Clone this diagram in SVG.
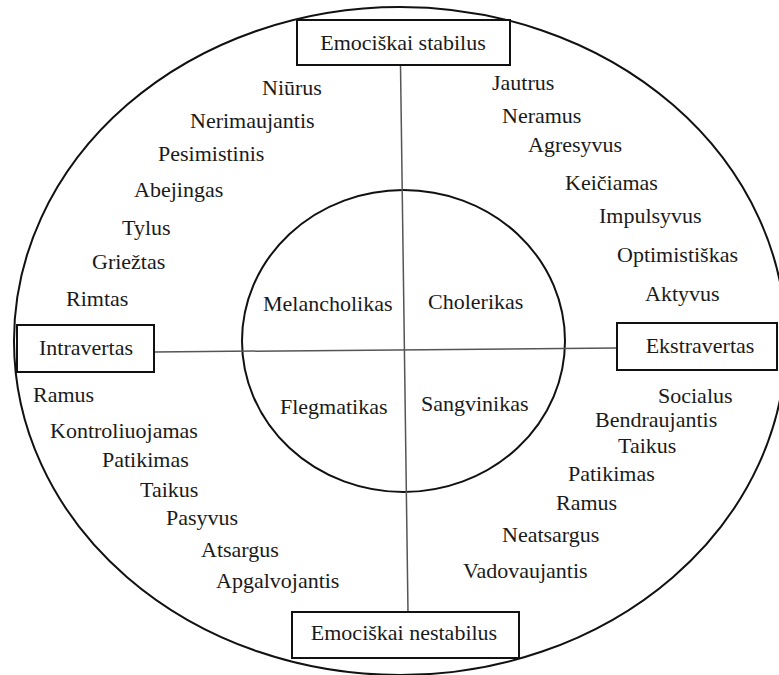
<svg xmlns="http://www.w3.org/2000/svg" width="779" height="675" viewBox="0 0 779 675">
  <style>
    .ring { fill: none; stroke: #111; stroke-width: 2; }
    .axis { stroke: #555; stroke-width: 1.5; fill: none; }
    .box { fill: #fff; stroke: #111; stroke-width: 2; }
    .lbl { font-family: 'Liberation Serif', 'DejaVu Serif', serif; font-size: 22px; fill: #1a1a1a; }
    .mid { text-anchor: middle; }
  </style>
  <rect width="779" height="675" fill="#fff"/>

  <!-- outer ring and inner temperament circle -->
  <g id="outer-ring">
    <ellipse class="ring" cx="400" cy="341" rx="386" ry="334"/>
  </g>
  <g id="inner-circle">
    <ellipse class="ring" cx="403.5" cy="341" rx="161.5" ry="151"/>
  </g>

  <!-- axes joining the four pole boxes -->
  <g id="connectors">
    <line class="axis" x1="400.5" y1="65" x2="408" y2="612"/>
    <line class="axis" x1="154" y1="352" x2="617" y2="348"/>
  </g>

  <g class="lbl" font-family="Liberation Serif, DejaVu Serif, serif" font-size="22">
    <!-- pole boxes -->
    <g id="node-stable">
      <rect class="box" x="297" y="20" width="213" height="45"/>
      <text class="mid" x="403" y="50">Emociškai stabilus</text>
    </g>
    <g id="node-introvert">
      <rect class="box" x="17" y="325" width="137" height="47"/>
      <text class="mid" x="86" y="355">Intravertas</text>
    </g>
    <g id="node-extravert">
      <rect class="box" x="617" y="323" width="160" height="47"/>
      <text class="mid" x="700" y="353">Ekstravertas</text>
    </g>
    <g id="node-unstable">
      <rect class="box" x="292" y="612" width="227" height="46"/>
      <text class="mid" x="404" y="640">Emociškai nestabilus</text>
    </g>

    <!-- temperament names -->
    <g id="temperaments">
      <text x="263" y="311">Melancholikas</text>
      <text x="428" y="309">Cholerikas</text>
      <text x="280" y="414">Flegmatikas</text>
      <text x="421" y="411">Sangvinikas</text>
    </g>

    <!-- traits: upper left -->
    <g id="traits-upper-left">
      <text x="262" y="95">Niūrus</text>
      <text x="190" y="128">Nerimaujantis</text>
      <text x="158" y="161">Pesimistinis</text>
      <text x="134" y="197">Abejingas</text>
      <text x="122" y="235">Tylus</text>
      <text x="92" y="269">Griežtas</text>
      <text x="66" y="306">Rimtas</text>
    </g>

    <!-- traits: upper right -->
    <g id="traits-upper-right">
      <text x="492" y="90">Jautrus</text>
      <text x="502" y="123">Neramus</text>
      <text x="528" y="152">Agresyvus</text>
      <text x="565" y="190">Keičiamas</text>
      <text x="599" y="223">Impulsyvus</text>
      <text x="617" y="262">Optimistiškas</text>
      <text x="645" y="301">Aktyvus</text>
    </g>

    <!-- traits: lower left -->
    <g id="traits-lower-left">
      <text x="33" y="402">Ramus</text>
      <text x="50" y="438">Kontroliuojamas</text>
      <text x="102" y="467">Patikimas</text>
      <text x="140" y="497">Taikus</text>
      <text x="166" y="525">Pasyvus</text>
      <text x="201" y="557">Atsargus</text>
      <text x="216" y="588">Apgalvojantis</text>
    </g>

    <!-- traits: lower right -->
    <g id="traits-lower-right">
      <text x="658" y="403">Socialus</text>
      <text x="595" y="427">Bendraujantis</text>
      <text x="618" y="453">Taikus</text>
      <text x="568" y="481">Patikimas</text>
      <text x="556" y="510">Ramus</text>
      <text x="502" y="542">Neatsargus</text>
      <text x="463" y="578">Vadovaujantis</text>
    </g>
  </g>
</svg>
